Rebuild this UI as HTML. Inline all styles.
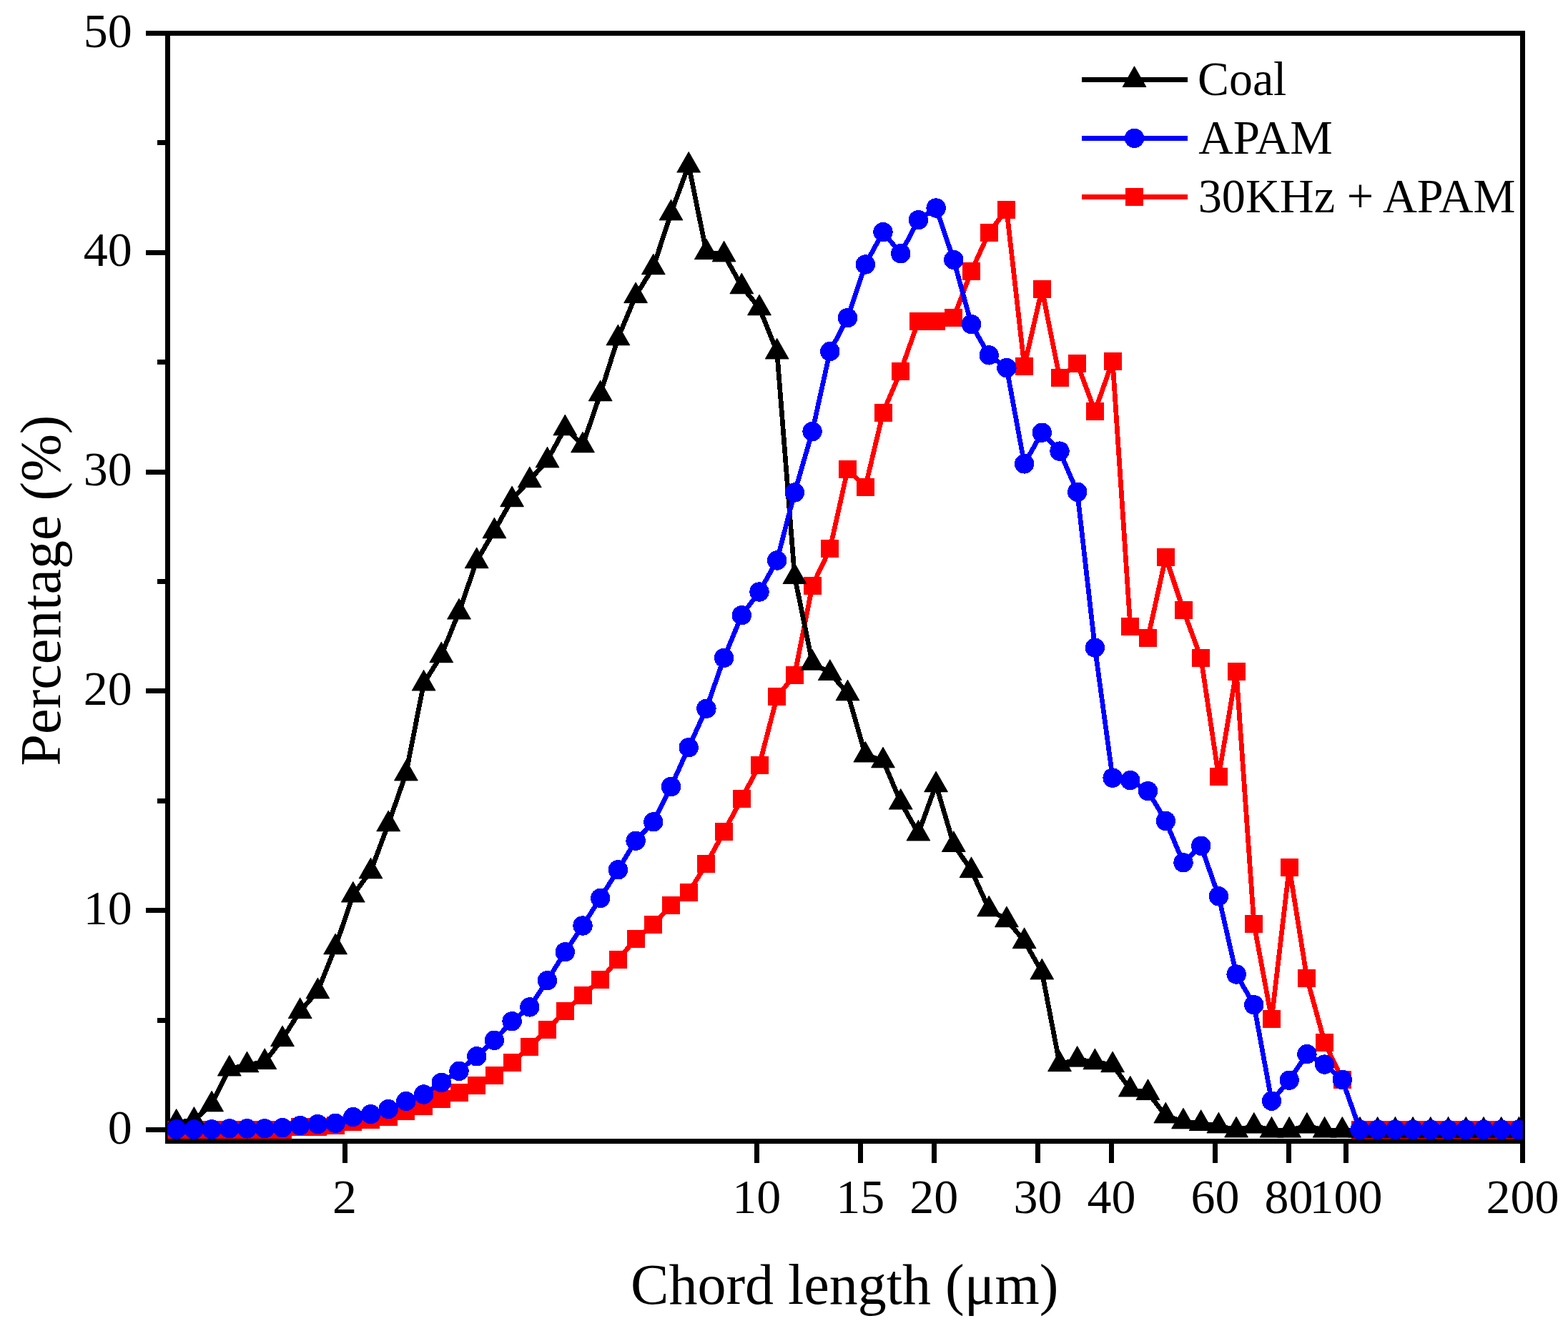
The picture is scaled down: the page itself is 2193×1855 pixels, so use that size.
<!DOCTYPE html>
<html><head><meta charset="utf-8"><title>Chord length distribution</title>
<style>html,body{margin:0;padding:0;background:#fff;}svg{display:block;}text{font-family:"Liberation Serif","Times New Roman",serif;fill:#000;}</style></head><body>
<svg width="2193" height="1855" viewBox="0 0 2193 1855" shape-rendering="crispEdges">
<rect width="2193" height="1855" fill="#fff"/>
<defs><clipPath id="pa"><rect x="234.5" y="46.5" width="1895.0" height="1549.5"/></clipPath></defs>
<g fill="none" stroke="#000" stroke-width="7" stroke-linecap="square">
<rect x="234.5" y="46.5" width="1895.0" height="1549.5" stroke-linejoin="miter"/>
</g>
<g stroke="#000" stroke-width="7" fill="none">
<line x1="204" y1="1580.5" x2="234.5" y2="1580.5"/>
<line x1="204" y1="1273.7" x2="234.5" y2="1273.7"/>
<line x1="204" y1="966.9" x2="234.5" y2="966.9"/>
<line x1="204" y1="660.1" x2="234.5" y2="660.1"/>
<line x1="204" y1="353.3" x2="234.5" y2="353.3"/>
<line x1="204" y1="46.5" x2="234.5" y2="46.5"/>
<line x1="220" y1="1427.1" x2="234.5" y2="1427.1"/>
<line x1="220" y1="1120.3" x2="234.5" y2="1120.3"/>
<line x1="220" y1="813.5" x2="234.5" y2="813.5"/>
<line x1="220" y1="506.7" x2="234.5" y2="506.7"/>
<line x1="220" y1="199.9" x2="234.5" y2="199.9"/>
<line x1="482.1" y1="1596.0" x2="482.1" y2="1627"/>
<line x1="1058.2" y1="1596.0" x2="1058.2" y2="1627"/>
<line x1="1203.3" y1="1596.0" x2="1203.3" y2="1627"/>
<line x1="1306.3" y1="1596.0" x2="1306.3" y2="1627"/>
<line x1="1451.4" y1="1596.0" x2="1451.4" y2="1627"/>
<line x1="1554.4" y1="1596.0" x2="1554.4" y2="1627"/>
<line x1="1699.6" y1="1596.0" x2="1699.6" y2="1627"/>
<line x1="1802.5" y1="1596.0" x2="1802.5" y2="1627"/>
<line x1="1882.4" y1="1596.0" x2="1882.4" y2="1627"/>
<line x1="2129.5" y1="1596.0" x2="2129.5" y2="1627"/>
</g>
<g font-size="68">
<text x="184.7" y="1599.5" text-anchor="end">0</text>
<text x="184.7" y="1292.7" text-anchor="end">10</text>
<text x="184.7" y="985.9" text-anchor="end">20</text>
<text x="184.7" y="679.1" text-anchor="end">30</text>
<text x="184.7" y="372.3" text-anchor="end">40</text>
<text x="184.7" y="65.5" text-anchor="end">50</text>
<text x="482.1" y="1697" text-anchor="middle">2</text>
<text x="1058.2" y="1697" text-anchor="middle">10</text>
<text x="1203.3" y="1697" text-anchor="middle">15</text>
<text x="1306.3" y="1697" text-anchor="middle">20</text>
<text x="1451.4" y="1697" text-anchor="middle">30</text>
<text x="1554.4" y="1697" text-anchor="middle">40</text>
<text x="1699.6" y="1697" text-anchor="middle">60</text>
<text x="1802.5" y="1697" text-anchor="middle">80</text>
<text x="1882.4" y="1697" text-anchor="middle">100</text>
<text x="2129.5" y="1697" text-anchor="middle">200</text>
</g>
<text x="1181.3" y="1823.7" font-size="80" text-anchor="middle">Chord length (μm)</text>
<text transform="translate(84.3,826) rotate(-90)" font-size="80" text-anchor="middle">Percentage (%)</text>
<g clip-path="url(#pa)">
<polyline fill="none" stroke="#f00" stroke-width="6.7" stroke-linejoin="miter" stroke-miterlimit="4" points="246.7,1580.0 271.4,1580.0 296.1,1580.0 320.8,1580.0 345.5,1580.0 370.2,1580.0 395.0,1580.0 419.7,1576.5 444.4,1576.3 469.1,1574.1 493.8,1569.1 518.5,1566.0 543.2,1562.1 567.9,1554.2 592.6,1547.1 617.3,1537.3 642.0,1528.1 666.7,1518.4 691.4,1504.4 716.1,1486.9 740.8,1464.4 765.5,1440.4 790.3,1414.4 815.0,1392.5 839.7,1370.4 864.4,1342.6 889.1,1313.5 913.8,1293.4 938.5,1266.5 963.2,1248.5 987.9,1208.8 1012.6,1163.4 1037.3,1117.4 1062.0,1070.3 1086.7,974.8 1111.4,944.3 1136.1,819.4 1160.8,767.9 1185.5,656.5 1210.3,681.3 1235.0,577.1 1259.7,519.3 1284.4,449.2 1309.1,449.2 1333.8,444.3 1358.5,379.3 1383.2,325.4 1407.9,293.3 1432.6,512.3 1457.3,404.4 1482.0,528.3 1506.7,508.9 1531.4,575.3 1556.1,505.0 1580.8,876.5 1605.5,892.8 1630.3,779.5 1655.0,853.4 1679.7,920.5 1704.4,1086.4 1729.1,939.4 1753.8,1292.4 1778.5,1425.3 1803.2,1213.4 1827.9,1368.5 1852.6,1458.3 1877.3,1510.2 1902.0,1580.7 1926.7,1580.7 1951.4,1580.7 1976.1,1580.7 2000.8,1580.7 2025.6,1580.7 2050.3,1580.7 2075.0,1580.7 2099.7,1580.7 2124.4,1580.7"/>
<g fill="#f00"><rect x="234.2" y="1567.5" width="25" height="25"/><rect x="258.9" y="1567.5" width="25" height="25"/><rect x="283.6" y="1567.5" width="25" height="25"/><rect x="308.3" y="1567.5" width="25" height="25"/><rect x="333.0" y="1567.5" width="25" height="25"/><rect x="357.8" y="1567.5" width="25" height="25"/><rect x="382.5" y="1567.5" width="25" height="25"/><rect x="407.2" y="1564.0" width="25" height="25"/><rect x="431.9" y="1563.8" width="25" height="25"/><rect x="456.6" y="1561.6" width="25" height="25"/><rect x="481.3" y="1556.6" width="25" height="25"/><rect x="506.0" y="1553.5" width="25" height="25"/><rect x="530.7" y="1549.6" width="25" height="25"/><rect x="555.4" y="1541.7" width="25" height="25"/><rect x="580.1" y="1534.6" width="25" height="25"/><rect x="604.8" y="1524.8" width="25" height="25"/><rect x="629.5" y="1515.6" width="25" height="25"/><rect x="654.2" y="1505.9" width="25" height="25"/><rect x="678.9" y="1491.9" width="25" height="25"/><rect x="703.6" y="1474.4" width="25" height="25"/><rect x="728.3" y="1451.9" width="25" height="25"/><rect x="753.0" y="1427.9" width="25" height="25"/><rect x="777.8" y="1401.9" width="25" height="25"/><rect x="802.5" y="1380.0" width="25" height="25"/><rect x="827.2" y="1357.9" width="25" height="25"/><rect x="851.9" y="1330.1" width="25" height="25"/><rect x="876.6" y="1301.0" width="25" height="25"/><rect x="901.3" y="1280.9" width="25" height="25"/><rect x="926.0" y="1254.0" width="25" height="25"/><rect x="950.7" y="1236.0" width="25" height="25"/><rect x="975.4" y="1196.3" width="25" height="25"/><rect x="1000.1" y="1150.9" width="25" height="25"/><rect x="1024.8" y="1104.9" width="25" height="25"/><rect x="1049.5" y="1057.8" width="25" height="25"/><rect x="1074.2" y="962.3" width="25" height="25"/><rect x="1098.9" y="931.8" width="25" height="25"/><rect x="1123.6" y="806.9" width="25" height="25"/><rect x="1148.3" y="755.4" width="25" height="25"/><rect x="1173.0" y="644.0" width="25" height="25"/><rect x="1197.8" y="668.8" width="25" height="25"/><rect x="1222.5" y="564.6" width="25" height="25"/><rect x="1247.2" y="506.8" width="25" height="25"/><rect x="1271.9" y="436.7" width="25" height="25"/><rect x="1296.6" y="436.7" width="25" height="25"/><rect x="1321.3" y="431.8" width="25" height="25"/><rect x="1346.0" y="366.8" width="25" height="25"/><rect x="1370.7" y="312.9" width="25" height="25"/><rect x="1395.4" y="280.8" width="25" height="25"/><rect x="1420.1" y="499.8" width="25" height="25"/><rect x="1444.8" y="391.9" width="25" height="25"/><rect x="1469.5" y="515.8" width="25" height="25"/><rect x="1494.2" y="496.4" width="25" height="25"/><rect x="1518.9" y="562.8" width="25" height="25"/><rect x="1543.6" y="492.5" width="25" height="25"/><rect x="1568.3" y="864.0" width="25" height="25"/><rect x="1593.0" y="880.3" width="25" height="25"/><rect x="1617.8" y="767.0" width="25" height="25"/><rect x="1642.5" y="840.9" width="25" height="25"/><rect x="1667.2" y="908.0" width="25" height="25"/><rect x="1691.9" y="1073.9" width="25" height="25"/><rect x="1716.6" y="926.9" width="25" height="25"/><rect x="1741.3" y="1279.9" width="25" height="25"/><rect x="1766.0" y="1412.8" width="25" height="25"/><rect x="1790.7" y="1200.9" width="25" height="25"/><rect x="1815.4" y="1356.0" width="25" height="25"/><rect x="1840.1" y="1445.8" width="25" height="25"/><rect x="1864.8" y="1497.7" width="25" height="25"/><rect x="1889.5" y="1568.2" width="25" height="25"/><rect x="1914.2" y="1568.2" width="25" height="25"/><rect x="1938.9" y="1568.2" width="25" height="25"/><rect x="1963.6" y="1568.2" width="25" height="25"/><rect x="1988.3" y="1568.2" width="25" height="25"/><rect x="2013.1" y="1568.2" width="25" height="25"/><rect x="2037.8" y="1568.2" width="25" height="25"/><rect x="2062.5" y="1568.2" width="25" height="25"/><rect x="2087.2" y="1568.2" width="25" height="25"/><rect x="2111.9" y="1568.2" width="25" height="25"/></g>
<polyline fill="none" stroke="#000" stroke-width="6.7" stroke-linejoin="miter" stroke-miterlimit="4" points="246.7,1570.1 271.4,1567.2 296.1,1544.8 320.8,1495.0 345.5,1489.8 370.2,1485.5 395.0,1453.6 419.7,1414.5 444.4,1386.7 469.1,1324.8 493.8,1252.0 518.5,1218.8 543.2,1152.7 567.9,1081.9 592.6,956.0 617.3,916.7 642.0,856.1 666.7,784.7 691.4,742.8 716.1,698.7 740.8,671.7 765.5,643.9 790.3,598.8 815.0,622.8 839.7,550.8 864.4,472.8 889.1,413.6 913.8,373.8 938.5,297.9 963.2,231.1 987.9,352.6 1012.6,355.9 1037.3,400.8 1062.0,430.8 1086.7,492.0 1111.4,806.5 1136.1,927.3 1160.8,941.4 1185.5,969.8 1210.3,1056.0 1235.0,1063.8 1259.7,1122.1 1284.4,1165.9 1309.1,1097.7 1333.8,1181.4 1358.5,1217.6 1383.2,1271.8 1407.9,1286.7 1432.6,1316.6 1457.3,1359.9 1482.0,1488.6 1506.7,1482.2 1531.4,1485.7 1556.1,1489.7 1580.8,1524.0 1605.5,1528.5 1630.3,1560.9 1655.0,1568.8 1679.7,1571.4 1704.4,1574.9 1729.1,1580.9 1753.8,1575.1 1778.5,1581.1 1803.2,1581.1 1827.9,1575.1 1852.6,1581.1 1877.3,1581.1 1902.0,1581.1 1926.7,1581.1 1951.4,1581.1 1976.1,1581.1 2000.8,1581.1 2025.6,1581.1 2050.3,1581.1 2075.0,1581.1 2099.7,1581.1 2124.4,1581.1"/>
<g fill="#000" stroke="#000" stroke-width="0.8" stroke-linejoin="round"><polygon points="246.7,1551.3 263.2,1580.2 230.2,1580.2"/><polygon points="271.4,1548.4 287.9,1577.3 254.9,1577.3"/><polygon points="296.1,1526.0 312.6,1554.9 279.6,1554.9"/><polygon points="320.8,1476.2 337.3,1505.1 304.3,1505.1"/><polygon points="345.5,1471.0 362.0,1499.9 329.0,1499.9"/><polygon points="370.2,1466.7 386.8,1495.6 353.8,1495.6"/><polygon points="395.0,1434.8 411.5,1463.7 378.5,1463.7"/><polygon points="419.7,1395.7 436.2,1424.6 403.2,1424.6"/><polygon points="444.4,1367.9 460.9,1396.8 427.9,1396.8"/><polygon points="469.1,1306.0 485.6,1334.9 452.6,1334.9"/><polygon points="493.8,1233.2 510.3,1262.1 477.3,1262.1"/><polygon points="518.5,1200.0 535.0,1228.9 502.0,1228.9"/><polygon points="543.2,1133.9 559.7,1162.8 526.7,1162.8"/><polygon points="567.9,1063.1 584.4,1092.0 551.4,1092.0"/><polygon points="592.6,937.2 609.1,966.1 576.1,966.1"/><polygon points="617.3,897.9 633.8,926.8 600.8,926.8"/><polygon points="642.0,837.3 658.5,866.2 625.5,866.2"/><polygon points="666.7,765.9 683.2,794.8 650.2,794.8"/><polygon points="691.4,724.0 707.9,752.9 674.9,752.9"/><polygon points="716.1,679.9 732.6,708.8 699.6,708.8"/><polygon points="740.8,652.9 757.3,681.8 724.3,681.8"/><polygon points="765.5,625.1 782.0,654.0 749.0,654.0"/><polygon points="790.3,580.0 806.8,608.9 773.8,608.9"/><polygon points="815.0,604.0 831.5,632.9 798.5,632.9"/><polygon points="839.7,532.0 856.2,560.9 823.2,560.9"/><polygon points="864.4,454.0 880.9,482.9 847.9,482.9"/><polygon points="889.1,394.8 905.6,423.7 872.6,423.7"/><polygon points="913.8,355.0 930.3,383.9 897.3,383.9"/><polygon points="938.5,279.1 955.0,308.0 922.0,308.0"/><polygon points="963.2,212.3 979.7,241.2 946.7,241.2"/><polygon points="987.9,333.8 1004.4,362.7 971.4,362.7"/><polygon points="1012.6,337.1 1029.1,366.0 996.1,366.0"/><polygon points="1037.3,382.0 1053.8,410.9 1020.8,410.9"/><polygon points="1062.0,412.0 1078.5,440.9 1045.5,440.9"/><polygon points="1086.7,473.2 1103.2,502.1 1070.2,502.1"/><polygon points="1111.4,787.7 1127.9,816.6 1094.9,816.6"/><polygon points="1136.1,908.5 1152.6,937.4 1119.6,937.4"/><polygon points="1160.8,922.6 1177.3,951.5 1144.3,951.5"/><polygon points="1185.5,951.0 1202.0,979.9 1169.0,979.9"/><polygon points="1210.3,1037.2 1226.8,1066.1 1193.8,1066.1"/><polygon points="1235.0,1045.0 1251.5,1073.9 1218.5,1073.9"/><polygon points="1259.7,1103.3 1276.2,1132.2 1243.2,1132.2"/><polygon points="1284.4,1147.1 1300.9,1176.0 1267.9,1176.0"/><polygon points="1309.1,1078.9 1325.6,1107.8 1292.6,1107.8"/><polygon points="1333.8,1162.6 1350.3,1191.5 1317.3,1191.5"/><polygon points="1358.5,1198.8 1375.0,1227.7 1342.0,1227.7"/><polygon points="1383.2,1253.0 1399.7,1281.9 1366.7,1281.9"/><polygon points="1407.9,1267.9 1424.4,1296.8 1391.4,1296.8"/><polygon points="1432.6,1297.8 1449.1,1326.7 1416.1,1326.7"/><polygon points="1457.3,1341.1 1473.8,1370.0 1440.8,1370.0"/><polygon points="1482.0,1469.8 1498.5,1498.7 1465.5,1498.7"/><polygon points="1506.7,1463.4 1523.2,1492.3 1490.2,1492.3"/><polygon points="1531.4,1466.9 1547.9,1495.8 1514.9,1495.8"/><polygon points="1556.1,1470.9 1572.6,1499.8 1539.6,1499.8"/><polygon points="1580.8,1505.2 1597.3,1534.1 1564.3,1534.1"/><polygon points="1605.5,1509.7 1622.0,1538.6 1589.0,1538.6"/><polygon points="1630.3,1542.1 1646.8,1571.0 1613.8,1571.0"/><polygon points="1655.0,1550.0 1671.5,1578.9 1638.5,1578.9"/><polygon points="1679.7,1552.6 1696.2,1581.5 1663.2,1581.5"/><polygon points="1704.4,1556.1 1720.9,1585.0 1687.9,1585.0"/><polygon points="1729.1,1562.1 1745.6,1591.0 1712.6,1591.0"/><polygon points="1753.8,1556.3 1770.3,1585.2 1737.3,1585.2"/><polygon points="1778.5,1562.3 1795.0,1591.2 1762.0,1591.2"/><polygon points="1803.2,1562.3 1819.7,1591.2 1786.7,1591.2"/><polygon points="1827.9,1556.3 1844.4,1585.2 1811.4,1585.2"/><polygon points="1852.6,1562.3 1869.1,1591.2 1836.1,1591.2"/><polygon points="1877.3,1562.3 1893.8,1591.2 1860.8,1591.2"/><polygon points="1902.0,1562.3 1918.5,1591.2 1885.5,1591.2"/><polygon points="1926.7,1562.3 1943.2,1591.2 1910.2,1591.2"/><polygon points="1951.4,1562.3 1967.9,1591.2 1934.9,1591.2"/><polygon points="1976.1,1562.3 1992.6,1591.2 1959.6,1591.2"/><polygon points="2000.8,1562.3 2017.3,1591.2 1984.3,1591.2"/><polygon points="2025.6,1562.3 2042.1,1591.2 2009.1,1591.2"/><polygon points="2050.3,1562.3 2066.8,1591.2 2033.8,1591.2"/><polygon points="2075.0,1562.3 2091.5,1591.2 2058.5,1591.2"/><polygon points="2099.7,1562.3 2116.2,1591.2 2083.2,1591.2"/><polygon points="2124.4,1562.3 2140.9,1591.2 2107.9,1591.2"/></g>
<polyline fill="none" stroke="#00f" stroke-width="6.7" stroke-linejoin="miter" stroke-miterlimit="4" points="246.7,1579.9 271.4,1580.0 296.1,1579.9 320.8,1578.8 345.5,1578.8 370.2,1578.8 395.0,1577.6 419.7,1574.6 444.4,1572.6 469.1,1571.3 493.8,1562.6 518.5,1558.7 543.2,1551.6 567.9,1540.5 592.6,1531.0 617.3,1514.4 642.0,1498.4 666.7,1477.8 691.4,1455.3 716.1,1428.7 740.8,1408.9 765.5,1371.7 790.3,1331.8 815.0,1295.0 839.7,1256.5 864.4,1216.8 889.1,1176.2 913.8,1149.8 938.5,1100.5 963.2,1045.7 987.9,991.3 1012.6,920.4 1037.3,860.8 1062.0,828.0 1086.7,784.0 1111.4,689.0 1136.1,603.6 1160.8,491.6 1185.5,444.6 1210.3,370.0 1235.0,324.6 1259.7,354.7 1284.4,307.7 1309.1,291.0 1333.8,363.5 1358.5,453.6 1383.2,496.9 1407.9,514.6 1432.6,648.9 1457.3,605.2 1482.0,631.1 1506.7,688.3 1531.4,906.2 1556.1,1088.1 1580.8,1091.6 1605.5,1106.6 1630.3,1148.5 1655.0,1206.8 1679.7,1183.3 1704.4,1253.8 1729.1,1363.0 1753.8,1405.7 1778.5,1540.2 1803.2,1511.2 1827.9,1474.6 1852.6,1489.1 1877.3,1510.4 1902.0,1580.3 1926.7,1580.3 1951.4,1580.3 1976.1,1580.3 2000.8,1580.3 2025.6,1580.3 2050.3,1580.3 2075.0,1580.3 2099.7,1580.3 2124.4,1580.3"/>
<g fill="#00f"><circle cx="246.7" cy="1579.9" r="13.7"/><circle cx="271.4" cy="1580.0" r="13.7"/><circle cx="296.1" cy="1579.9" r="13.7"/><circle cx="320.8" cy="1578.8" r="13.7"/><circle cx="345.5" cy="1578.8" r="13.7"/><circle cx="370.2" cy="1578.8" r="13.7"/><circle cx="395.0" cy="1577.6" r="13.7"/><circle cx="419.7" cy="1574.6" r="13.7"/><circle cx="444.4" cy="1572.6" r="13.7"/><circle cx="469.1" cy="1571.3" r="13.7"/><circle cx="493.8" cy="1562.6" r="13.7"/><circle cx="518.5" cy="1558.7" r="13.7"/><circle cx="543.2" cy="1551.6" r="13.7"/><circle cx="567.9" cy="1540.5" r="13.7"/><circle cx="592.6" cy="1531.0" r="13.7"/><circle cx="617.3" cy="1514.4" r="13.7"/><circle cx="642.0" cy="1498.4" r="13.7"/><circle cx="666.7" cy="1477.8" r="13.7"/><circle cx="691.4" cy="1455.3" r="13.7"/><circle cx="716.1" cy="1428.7" r="13.7"/><circle cx="740.8" cy="1408.9" r="13.7"/><circle cx="765.5" cy="1371.7" r="13.7"/><circle cx="790.3" cy="1331.8" r="13.7"/><circle cx="815.0" cy="1295.0" r="13.7"/><circle cx="839.7" cy="1256.5" r="13.7"/><circle cx="864.4" cy="1216.8" r="13.7"/><circle cx="889.1" cy="1176.2" r="13.7"/><circle cx="913.8" cy="1149.8" r="13.7"/><circle cx="938.5" cy="1100.5" r="13.7"/><circle cx="963.2" cy="1045.7" r="13.7"/><circle cx="987.9" cy="991.3" r="13.7"/><circle cx="1012.6" cy="920.4" r="13.7"/><circle cx="1037.3" cy="860.8" r="13.7"/><circle cx="1062.0" cy="828.0" r="13.7"/><circle cx="1086.7" cy="784.0" r="13.7"/><circle cx="1111.4" cy="689.0" r="13.7"/><circle cx="1136.1" cy="603.6" r="13.7"/><circle cx="1160.8" cy="491.6" r="13.7"/><circle cx="1185.5" cy="444.6" r="13.7"/><circle cx="1210.3" cy="370.0" r="13.7"/><circle cx="1235.0" cy="324.6" r="13.7"/><circle cx="1259.7" cy="354.7" r="13.7"/><circle cx="1284.4" cy="307.7" r="13.7"/><circle cx="1309.1" cy="291.0" r="13.7"/><circle cx="1333.8" cy="363.5" r="13.7"/><circle cx="1358.5" cy="453.6" r="13.7"/><circle cx="1383.2" cy="496.9" r="13.7"/><circle cx="1407.9" cy="514.6" r="13.7"/><circle cx="1432.6" cy="648.9" r="13.7"/><circle cx="1457.3" cy="605.2" r="13.7"/><circle cx="1482.0" cy="631.1" r="13.7"/><circle cx="1506.7" cy="688.3" r="13.7"/><circle cx="1531.4" cy="906.2" r="13.7"/><circle cx="1556.1" cy="1088.1" r="13.7"/><circle cx="1580.8" cy="1091.6" r="13.7"/><circle cx="1605.5" cy="1106.6" r="13.7"/><circle cx="1630.3" cy="1148.5" r="13.7"/><circle cx="1655.0" cy="1206.8" r="13.7"/><circle cx="1679.7" cy="1183.3" r="13.7"/><circle cx="1704.4" cy="1253.8" r="13.7"/><circle cx="1729.1" cy="1363.0" r="13.7"/><circle cx="1753.8" cy="1405.7" r="13.7"/><circle cx="1778.5" cy="1540.2" r="13.7"/><circle cx="1803.2" cy="1511.2" r="13.7"/><circle cx="1827.9" cy="1474.6" r="13.7"/><circle cx="1852.6" cy="1489.1" r="13.7"/><circle cx="1877.3" cy="1510.4" r="13.7"/><circle cx="1902.0" cy="1580.3" r="13.7"/><circle cx="1926.7" cy="1580.3" r="13.7"/><circle cx="1951.4" cy="1580.3" r="13.7"/><circle cx="1976.1" cy="1580.3" r="13.7"/><circle cx="2000.8" cy="1580.3" r="13.7"/><circle cx="2025.6" cy="1580.3" r="13.7"/><circle cx="2050.3" cy="1580.3" r="13.7"/><circle cx="2075.0" cy="1580.3" r="13.7"/><circle cx="2099.7" cy="1580.3" r="13.7"/><circle cx="2124.4" cy="1580.3" r="13.7"/></g>
</g>
<g stroke-width="6.9">
<line x1="1513" y1="111.5" x2="1661" y2="111.5" stroke="#000"/>
<line x1="1513" y1="193.4" x2="1661" y2="193.4" stroke="#00f"/>
<line x1="1513" y1="275.4" x2="1661" y2="275.4" stroke="#f00"/>
</g>
<g fill="#000" stroke="#000" stroke-width="0.8" stroke-linejoin="round"><polygon points="1586.5,92.7 1603.0,121.6 1570.0,121.6"/></g>
<g fill="#00f"><circle cx="1586.5" cy="193.4" r="13.7"/></g>
<g fill="#f00"><rect x="1574.0" y="262.9" width="25" height="25"/></g>
<g font-size="67">
<text x="1675.1" y="133.3" textLength="124.3" lengthAdjust="spacingAndGlyphs">Coal</text>
<text x="1676.3" y="214.9">APAM</text>
<text x="1675.7" y="296.5" textLength="443.7" lengthAdjust="spacingAndGlyphs">30KHz + APAM</text>
</g>
</svg></body></html>
